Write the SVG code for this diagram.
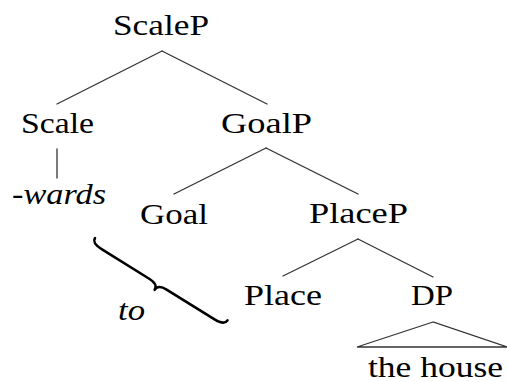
<svg xmlns="http://www.w3.org/2000/svg" width="507" height="382" viewBox="0 0 507 382">
  <style>
    .edge { stroke: #333; stroke-width: 1.3; fill: none; stroke-linecap: round; }
    .brace { stroke: #000; stroke-width: 2.6; fill: none; stroke-linecap: round; stroke-linejoin: round; }
  </style>
  <rect width="507" height="382" fill="#fff"/>

  <!-- tree edges -->
  <g id="edges">
    <line class="edge" x1="162" y1="51" x2="57" y2="104"/>
    <line class="edge" x1="162" y1="51" x2="267" y2="104"/>
    <line class="edge" x1="57" y1="149" x2="57" y2="178"/>
    <line class="edge" x1="266" y1="148" x2="174" y2="194"/>
    <line class="edge" x1="266" y1="148" x2="358" y2="194"/>
    <line class="edge" x1="358" y1="239" x2="283" y2="276"/>
    <line class="edge" x1="358" y1="239" x2="433" y2="277"/>
    <polygon class="edge" points="433,322 357,347 507,347"/>
  </g>

  <!-- nodes -->
  <g id="n-scalep"><text x="113" y="35" font-size="30" font-family="Liberation Serif" textLength="96" lengthAdjust="spacingAndGlyphs">ScaleP</text></g>
  <g id="n-scale"><text x="21" y="133" font-size="30" font-family="Liberation Serif" textLength="73" lengthAdjust="spacingAndGlyphs">Scale</text></g>
  <g id="n-wards"><text x="12" y="204" font-size="30" font-family="Liberation Serif" font-style="italic" textLength="94" lengthAdjust="spacingAndGlyphs">-wards</text></g>
  <g id="n-goalp"><text x="221" y="133" font-size="30" font-family="Liberation Serif" textLength="91" lengthAdjust="spacingAndGlyphs">GoalP</text></g>
  <g id="n-goal"><text x="140" y="224" font-size="30" font-family="Liberation Serif" textLength="68" lengthAdjust="spacingAndGlyphs">Goal</text></g>
  <g id="n-placep"><text x="309" y="223" font-size="30" font-family="Liberation Serif" textLength="99" lengthAdjust="spacingAndGlyphs">PlaceP</text></g>
  <g id="n-place"><text x="244" y="305" font-size="30" font-family="Liberation Serif" textLength="78" lengthAdjust="spacingAndGlyphs">Place</text></g>
  <g id="n-dp"><text x="411" y="305" font-size="30" font-family="Liberation Serif" textLength="42" lengthAdjust="spacingAndGlyphs">DP</text></g>
  <g id="n-house"><text x="368" y="377" font-size="30" font-family="Liberation Serif" textLength="135" lengthAdjust="spacingAndGlyphs">the house</text></g>

  <!-- rotated brace labelled "to" -->
  <g id="n-to">
    <path class="brace" transform="translate(95,238) rotate(31.85)"
          d="M0,0 C0,4 3,6 12,6 L68,6 C74,6 78,8 78,12.5 C78,8 82,6 88,6 L144,6 C153,6 156,4 156,0"/>
    <text x="118" y="320" font-size="30" font-family="Liberation Serif" font-style="italic" textLength="27" lengthAdjust="spacingAndGlyphs">to</text>
  </g>
</svg>
